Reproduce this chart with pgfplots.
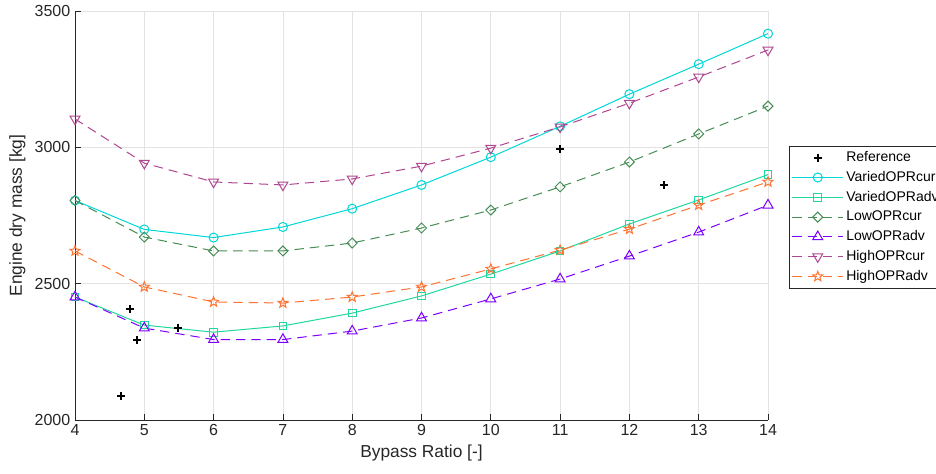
\documentclass[border=0pt]{standalone}
\usepackage{fontspec}
\setmainfont{Liberation Sans}
\usepackage{pgfplots}
\pgfplotsset{compat=1.18}
\definecolor{cVc}{RGB}{0,215,215}
\definecolor{cVa}{RGB}{32,215,160}
\definecolor{cLc}{RGB}{70,140,85}
\definecolor{cLa}{RGB}{125,0,255}
\definecolor{cHc}{RGB}{175,70,145}
\definecolor{cHa}{RGB}{255,115,50}
\definecolor{axgray}{RGB}{38,38,38}
\pgfdeclareplotmark{pentagram}{%
  \pgfpathmoveto{\pgfpointpolar{90}{\pgfplotmarksize}}%
  \pgfpathlineto{\pgfpointpolar{126}{0.42\pgfplotmarksize}}%
  \pgfpathlineto{\pgfpointpolar{162}{\pgfplotmarksize}}%
  \pgfpathlineto{\pgfpointpolar{198}{0.42\pgfplotmarksize}}%
  \pgfpathlineto{\pgfpointpolar{234}{\pgfplotmarksize}}%
  \pgfpathlineto{\pgfpointpolar{270}{0.42\pgfplotmarksize}}%
  \pgfpathlineto{\pgfpointpolar{306}{\pgfplotmarksize}}%
  \pgfpathlineto{\pgfpointpolar{342}{0.42\pgfplotmarksize}}%
  \pgfpathlineto{\pgfpointpolar{18}{\pgfplotmarksize}}%
  \pgfpathlineto{\pgfpointpolar{54}{0.42\pgfplotmarksize}}%
  \pgfpathclose
  \pgfusepathqstroke}
\begin{document}
\begin{tikzpicture}
\begin{axis}[
  scale only axis,
  width=519.75pt, height=306.75pt,
  xmin=4, xmax=14, ymin=2000, ymax=3500,
  xtick={4,5,...,14}, ytick={2000,2500,3000,3500},
  axis x line*=bottom, axis y line*=left,
  axis line style={axgray, line width=0.5pt},
  tick align=inside, tick style={axgray, line width=0.5pt}, major tick length=4.5pt,
  grid=major, grid style={gray!22, line width=0.5pt},
  /pgf/number format/assume math mode=true,
  /pgf/number format/1000 sep={},
  font=\fontsize{12}{14.4}\selectfont,
  tick label style={font=\fontsize{12}{14.4}\selectfont, text=axgray},
  xlabel={Bypass Ratio [-]}, ylabel={Engine dry mass [kg]},
  label style={text=axgray, font=\fontsize{13}{15.6}\selectfont},
  legend style={at={(rel axis cs:1.0303,0.670)}, anchor=north west, draw=axgray, fill=white,
    font=\fontsize{10.5}{12.6}\selectfont, row sep=1.8pt, inner xsep=2pt, inner ysep=2pt},
  legend cell align=left,
  legend image code/.code={\draw[mark repeat=2,mark phase=2,#1] plot coordinates {(0pt,0pt) (19pt,0pt) (38pt,0pt)};},
  every axis plot/.append style={line width=0.75pt, mark size=3.3pt, mark options={solid}},
  clip=false,
]
\addplot[only marks, mark=+, black, mark size=3pt, line width=1.4pt] coordinates {
(4.67,2089) (4.79,2407) (4.9,2293) (5.49,2336) (11.0,2993) (12.5,2861)};
\addlegendentry{Reference}
\addplot[cVc, solid, mark=o, mark size=3.4pt] coordinates {
(4,2805) (5,2699) (6,2669) (7,2708) (8,2775) (9,2862) (10,2964) (11,3077) (12,3195) (13,3305) (14,3417)};
\addlegendentry{VariedOPRcur}
\addplot[cVa, solid, mark=square, mark size=2.9pt] coordinates {
(4,2451) (5,2348) (6,2322) (7,2345) (8,2392) (9,2455) (10,2535) (11,2620) (12,2719) (13,2807) (14,2900)};
\addlegendentry{VariedOPRadv}
\addplot[cLc, dash pattern=on 7pt off 4.5pt, mark=square, mark size=2.65pt, mark options={solid, rotate=45}] coordinates {
(4,2805) (5,2671) (6,2620) (7,2620) (8,2649) (9,2704) (10,2770) (11,2855) (12,2946) (13,3049) (14,3151)};
\addlegendentry{LowOPRcur}
\addplot[cLa, dash pattern=on 7pt off 4.5pt, mark=triangle, mark size=4.3pt] coordinates {
(4,2451) (5,2337) (6,2295) (7,2295) (8,2326) (9,2374) (10,2444) (11,2517) (12,2601) (13,2689) (14,2788)};
\addlegendentry{LowOPRadv}
\addplot[cHc, dash pattern=on 7pt off 4.5pt, mark=triangle, mark size=4.3pt, mark options={solid, rotate=180}] coordinates {
(4,3104) (5,2942) (6,2873) (7,2862) (8,2884) (9,2931) (10,2997) (11,3075) (12,3162) (13,3258) (14,3357)};
\addlegendentry{HighOPRcur}
\addplot[cHa, dash pattern=on 7pt off 4.5pt, mark=pentagram, mark size=3.9pt] coordinates {
(4,2620) (5,2488) (6,2433) (7,2429) (8,2451) (9,2488) (10,2554) (11,2623) (12,2700) (13,2788) (14,2873)};
\addlegendentry{HighOPRadv}
\end{axis}
\pgfresetboundingbox
\useasboundingbox (-56.25pt,-40.5pt) rectangle (645.75pt,315pt);
\end{tikzpicture}
\end{document}
